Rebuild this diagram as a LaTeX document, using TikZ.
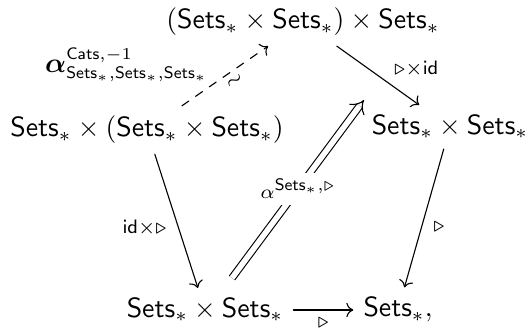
\documentclass[tikz,border=0pt]{standalone}
\usepackage{amsmath,amssymb}
\usepackage{bm}
\usepackage{tikz}
\usetikzlibrary{arrows.meta}

\newcommand{\Sts}{\mathsf{Sets}_*}
\newcommand{\idx}[1]{\text{\fontsize{6.5pt}{6.5pt}\selectfont$#1$}}

\begin{document}
\begin{tikzpicture}[
    x=0.36pt, y=-0.36pt,
    >={Computer Modern Rightarrow},
    obj/.style={inner sep=3.5pt},
    map/.style={->, line cap=round},
    lbl/.style={inner sep=2pt},
    cell/.style={double, double distance=2pt, -{Implies}}
]
\useasboundingbox (0,0) rectangle (529,333);

% === 顶点 ===
\node[obj] (top) at (303,22)  {$(\Sts\times\Sts)\times\Sts$};
\node[obj] (lft) at (147,130) {$\Sts\times(\Sts\times\Sts)$};
\node[obj] (rgt) at (450,127) {$\Sts\times\Sts$};
\node[obj] (bl)  at (205,310) {$\Sts\times\Sts$};
\node[obj] (br)  at (398,310) {$\Sts,$};

% === 箭头 ===
\draw[map, dashed] (lft) -- node[lbl, pos=0.34, above left, inner sep=1pt]
    {$\bm{\alpha}^{\idx{\mathsf{Cats}{,}{-}1}}_{\idx{\Sts{,}\Sts{,}\Sts}}$}
    node[lbl, pos=0.55, below, sloped] {$\scriptstyle\sim$} (top);
\draw[map] (top) -- node[lbl, pos=0.62, above right] {$\scriptstyle\triangleright\times\mathsf{id}$} (rgt);
\draw[map] (lft) -- node[lbl, pos=0.55, left, inner sep=4pt] {$\scriptstyle\mathsf{id}\times\triangleright$} (bl);
\draw[map] (rgt) -- node[lbl, pos=0.56, right, inner sep=4pt] {$\scriptstyle\triangleright$} (br);
\draw[map] (bl) -- node[lbl, midway, below, inner sep=3pt] {$\scriptstyle\triangleright$} (br);

% === 2-胞腔 ===
\coordinate (c1) at (232,278);
\coordinate (c2) at (364,100);
\draw[cell] (c1) -- node[lbl, midway, fill=white] {$\scriptstyle\alpha^{\idx{\Sts{,}\triangleright}}$} (c2);

\end{tikzpicture}
\end{document}
